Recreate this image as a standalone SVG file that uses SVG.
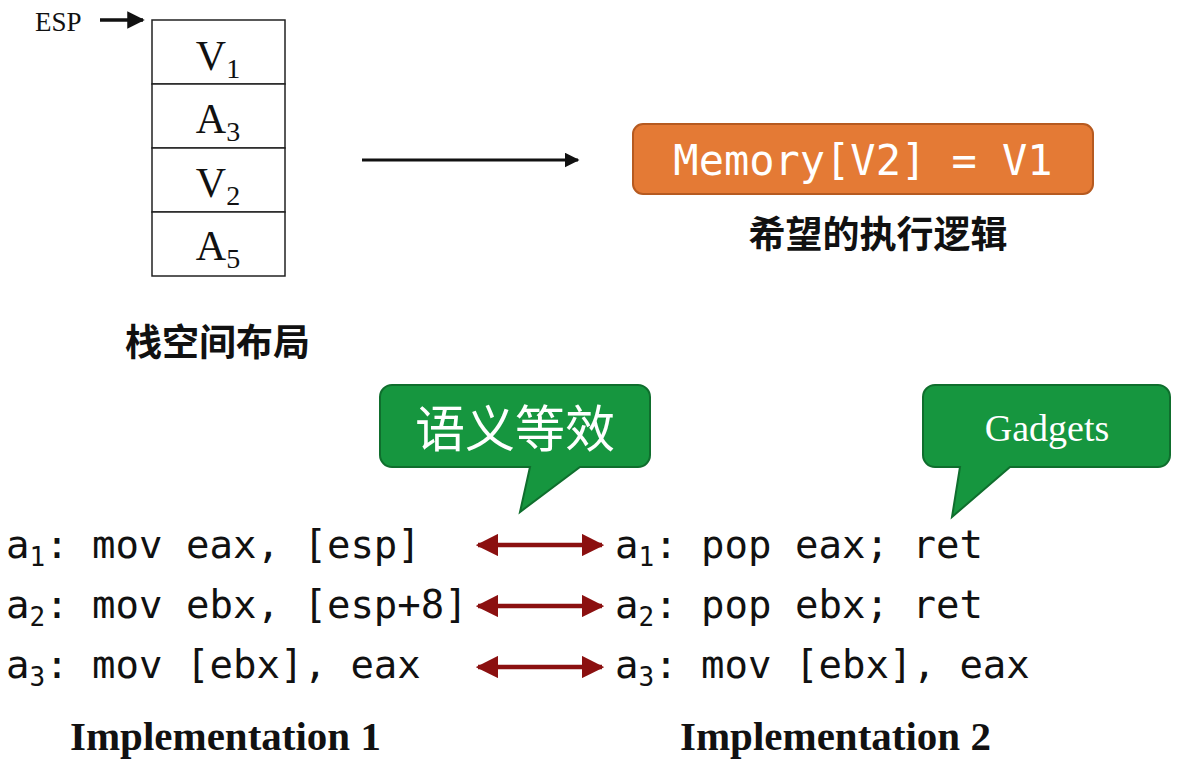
<svg xmlns="http://www.w3.org/2000/svg" width="1185" height="765" viewBox="0 0 1185 765">
<style>
.serif{font-family:"Liberation Serif","DejaVu Serif",serif}
.mono{font-family:"DejaVu Sans Mono","Liberation Mono",monospace;font-size:39px;fill:#111}
.cjk{font-family:"Noto Sans CJK SC",sans-serif;font-weight:bold;font-size:37px;fill:#111}
.cell{fill:#fff;stroke:#222;stroke-width:1.5}
.cv{font-family:"Liberation Serif",serif;font-size:42px;fill:#111;text-anchor:middle}
.bubble{fill:#16963F;stroke:#0f6e2d;stroke-width:2}
.dr{stroke:#8B1010;stroke-width:4.5;fill:none}
</style>
<defs>
<marker id="ak" viewBox="0 0 10 10" refX="9" refY="5" markerWidth="5" markerHeight="5" orient="auto-start-reverse"><path d="M0,0L10,5L0,10z" fill="#111"/></marker>
<marker id="ar" viewBox="0 0 10 10" refX="9" refY="5" markerWidth="5" markerHeight="5" orient="auto-start-reverse"><path d="M0,0L10,5L0,10z" fill="#8B1010"/></marker>
</defs>
<g id="stack">
<rect class="cell" x="152" y="20" width="133" height="64"/>
<rect class="cell" x="152" y="84" width="133" height="64"/>
<rect class="cell" x="152" y="148" width="133" height="64"/>
<rect class="cell" x="152" y="212" width="133" height="64"/>
<text class="cv" x="218" y="70">V<tspan font-size="28" dy="8">1</tspan></text>
<text class="cv" x="218" y="133">A<tspan font-size="28" dy="8">3</tspan></text>
<text class="cv" x="218" y="197">V<tspan font-size="28" dy="8">2</tspan></text>
<text class="cv" x="218" y="260">A<tspan font-size="28" dy="8">5</tspan></text>
<text class="serif" x="35" y="31" font-size="27" fill="#111">ESP</text>
<text class="cjk" x="125" y="356">栈空间布局</text>
</g>
<g id="goal">
<rect x="633" y="124" width="460" height="70" rx="10" fill="#E47A35" stroke="#b65a20" stroke-width="2"/>
<text x="863" y="175" text-anchor="middle" font-family="DejaVu Sans Mono,Liberation Mono,monospace" font-size="42" fill="#fff">Memory[V2] = V1</text>
<text class="cjk" x="878" y="248" text-anchor="middle">希望的执行逻辑</text>
</g>
<g id="callout1">
<path class="bubble" d="M392,385H638a12,12 0 0 1 12,12V455a12,12 0 0 1-12,12H580L520,512L530,467H392a12,12 0 0 1-12-12V397a12,12 0 0 1 12-12z"/>
<text x="515" y="447" text-anchor="middle" font-family="Noto Sans CJK SC,sans-serif" font-size="50" fill="#fff">语义等效</text>
</g>
<g id="callout2">
<path class="bubble" d="M935,385H1158a12,12 0 0 1 12,12V455a12,12 0 0 1-12,12H1010L952,517L960,467H935a12,12 0 0 1-12-12V397a12,12 0 0 1 12-12z"/>
<text x="1047" y="441" text-anchor="middle" class="serif" font-size="38" fill="#fff">Gadgets</text>
</g>
<g id="impl1" class="mono">
<text x="6" y="558">a<tspan font-size="26" dy="8">1</tspan><tspan dy="-8">: mov eax, [esp]</tspan></text>
<text x="6" y="618">a<tspan font-size="26" dy="8">2</tspan><tspan dy="-8">: mov ebx, [esp+8]</tspan></text>
<text x="6" y="678">a<tspan font-size="26" dy="8">3</tspan><tspan dy="-8">: mov [ebx], eax</tspan></text>
</g>
<g id="impl2" class="mono">
<text x="615" y="558">a<tspan font-size="26" dy="8">1</tspan><tspan dy="-8">: pop eax; ret</tspan></text>
<text x="615" y="618">a<tspan font-size="26" dy="8">2</tspan><tspan dy="-8">: pop ebx; ret</tspan></text>
<text x="615" y="678">a<tspan font-size="26" dy="8">3</tspan><tspan dy="-8">: mov [ebx], eax</tspan></text>
</g>
<text class="serif" x="70" y="750" font-size="41" font-weight="bold" fill="#111">Implementation 1</text>
<text class="serif" x="680" y="750" font-size="41" font-weight="bold" fill="#111">Implementation 2</text>
<g id="connectors">
<line x1="100" y1="20" x2="143" y2="20" stroke="#111" stroke-width="3.5" marker-end="url(#ak)"/>
<line x1="362" y1="160" x2="578" y2="160" stroke="#111" stroke-width="3" marker-end="url(#ak)"/>
<line class="dr" x1="478" y1="545" x2="602" y2="545" marker-start="url(#ar)" marker-end="url(#ar)"/>
<line class="dr" x1="478" y1="606" x2="602" y2="606" marker-start="url(#ar)" marker-end="url(#ar)"/>
<line class="dr" x1="478" y1="667" x2="602" y2="667" marker-start="url(#ar)" marker-end="url(#ar)"/>
</g>
</svg>
